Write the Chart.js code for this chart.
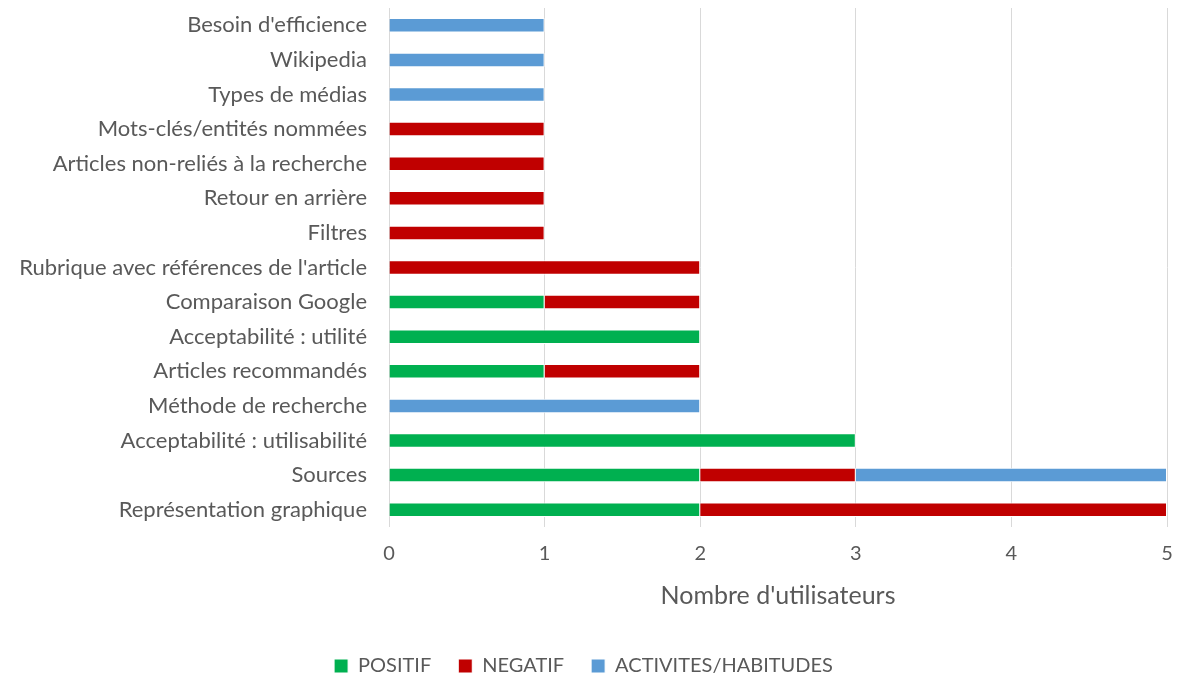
<!DOCTYPE html>
<html>
<head>
<meta charset="utf-8">
<script src="https://cdn.jsdelivr.net/npm/chart.js@4/dist/chart.umd.min.js"></script>
<style>
html,body{margin:0;padding:0;background:#fff}
#wrap{width:1180px;height:678px}
</style>
</head>
<body>
<div id="wrap"><canvas id="chart" width="1180" height="678"></canvas></div>
<script>
const categories=["Besoin d'efficience","Wikipedia","Types de médias","Mots-clés/entités nommées","Articles non-reliés à la recherche","Retour en arrière","Filtres","Rubrique avec références de l'article","Comparaison Google","Acceptabilité : utilité","Articles recommandés","Méthode de recherche","Acceptabilité : utilisabilité","Sources","Représentation graphique"];
const positif=[0,0,0,0,0,0,0,0,1,2,1,0,3,2,2];
const negatif=[0,0,0,1,1,1,1,2,1,0,1,0,0,1,3];
const activites=[1,1,1,0,0,0,0,0,0,0,0,2,0,2,0];
const xTicks=[0,1,2,3,4,5];

const colors={green:"#00B050",red:"#C00000",blue:"#5B9BD5",text:"#595959",grid:"#d9d9d9"};
const font="Lato, 'Open Sans', sans-serif";
const ds=(label,data,color)=>({label,data,backgroundColor:color,borderColor:"#ffffff",borderWidth:1,barPercentage:0.42,categoryPercentage:1});

new Chart("chart",{type:"bar",
  data:{labels:categories,datasets:[
    ds("POSITIF",positif,colors.green),
    ds("NEGATIF",negatif,colors.red),
    ds("ACTIVITES/HABITUDES",activites,colors.blue)
  ]},
  options:{indexAxis:"y",responsive:false,animation:false,
    layout:{padding:{top:8,right:13,left:0,bottom:-8}},
    plugins:{legend:{position:"bottom",labels:{boxWidth:14,boxHeight:14,padding:27,color:colors.text,font:{family:font,size:20}}},tooltip:{enabled:false}},
    scales:{
      x:{stacked:true,min:0,max:5,afterBuildTicks:a=>{a.ticks=xTicks.map(v=>({value:v}))},
        afterFit:a=>{a.paddingLeft=0;a.paddingRight=0},
        grid:{color:colors.grid,drawTicks:false},border:{display:false},
        ticks:{padding:15,color:colors.text,font:{family:font,size:20}},
        title:{display:true,text:"Nombre d'utilisateurs",color:colors.text,font:{family:font,size:25},padding:{top:0,bottom:18}}},
      y:{stacked:true,grid:{display:false,drawTicks:false},border:{display:false},
        afterFit:a=>{a.width=389;a.paddingTop=0;a.paddingBottom=0},
        ticks:{padding:22,color:colors.text,font:{family:font,size:22},autoSkip:false}}
    }}
});
</script>
</body>
</html>
